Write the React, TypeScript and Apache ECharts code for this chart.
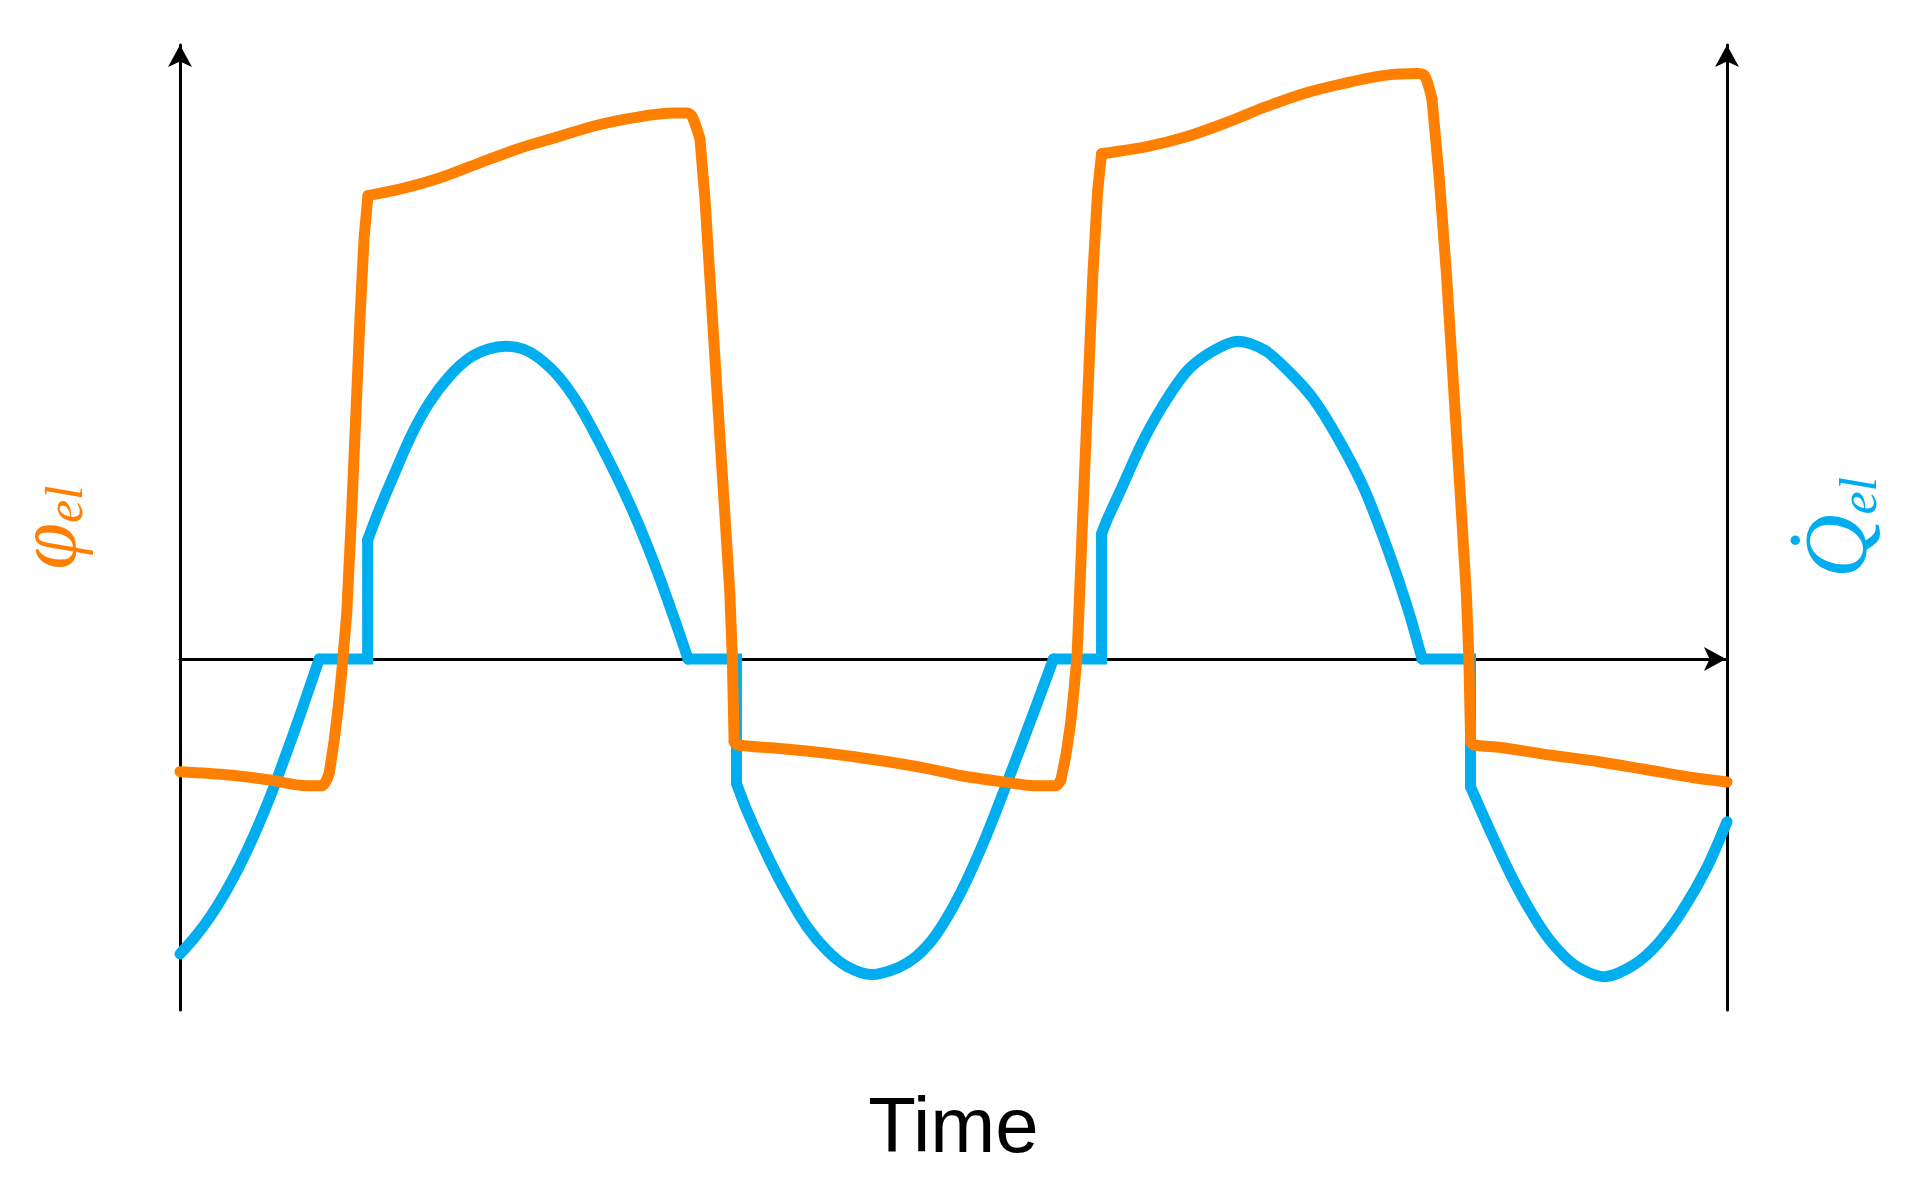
import React, { useEffect, useRef } from "react";
import * as echarts from "echarts";

// Time (0..100 across the plot) and values (0 = horizontal axis)
const tPhi = [0, 3.22, 5.79, 8.2, 9.17, 9.65, 9.97, 10.23, 10.45, 10.78, 11.09, 11.42, 11.64, 11.9, 12.15, 14.47, 16.72, 19.3, 21.87, 24.44, 27.01, 29.59, 31.84, 32.81, 33.12, 33.61, 33.93, 34.25, 34.57, 34.89, 35.22, 35.54, 35.7, 35.76, 35.82, 36.02, 38.59, 41.81, 45.02, 48.24, 50.42, 53.6, 55.18, 56.62, 56.94, 57.25, 57.57, 57.79, 57.98, 58.05, 58.36, 58.68, 59.0, 59.32, 59.57, 59.95, 62.5, 65.04, 67.58, 70.12, 72.66, 75.21, 77.75, 79.97, 80.45, 80.93, 81.4, 81.88, 82.2, 82.52, 82.84, 83.15, 83.31, 83.37, 83.43, 83.64, 85.38, 88.56, 91.73, 94.91, 98.09, 100];
const phiEl = [-11.27, -11.6, -12.1, -12.67, -12.67, -11.4, -8.1, -4.8, -1.4, 4.6, 14.5, 26.33, 34.23, 42.14, 46.33, 47.08, 48.07, 49.57, 51.03, 52.22, 53.4, 54.19, 54.59, 54.59, 54.2, 52.02, 46.1, 38.2, 30.3, 22.4, 14.5, 6.6, 0.24, -4.1, -8.3, -8.6, -8.93, -9.43, -10.1, -10.93, -11.65, -12.37, -12.67, -12.67, -12.1, -9.77, -6.43, -3.1, 0.23, 2.61, 14.47, 26.33, 38.18, 46.88, 50.52, 50.6, 51.23, 52.22, 53.6, 55.18, 56.56, 57.55, 58.34, 58.54, 58.34, 55.97, 48.07, 38.18, 30.28, 22.38, 14.47, 6.56, 0.24, -4.1, -8.3, -8.6, -8.85, -9.6, -10.27, -11.1, -11.93, -12.3];

const tQ = [0, 0.97, 1.94, 2.91, 3.88, 4.85, 5.82, 6.79, 7.76, 9.0, 12.13, 12.13, 12.86, 13.83, 14.95, 16.08, 17.37, 18.66, 19.94, 21.07, 22.19, 23.15, 24.44, 25.73, 27.01, 28.3, 29.59, 30.87, 32.16, 32.84, 35.97, 35.97, 36.66, 37.94, 39.24, 40.52, 41.81, 43.1, 44.7, 46.31, 47.6, 48.88, 50.42, 52.01, 53.6, 55.19, 56.46, 59.57, 59.57, 59.95, 60.91, 62.18, 63.45, 65.04, 66.63, 68.38, 70.12, 71.71, 73.3, 74.89, 76.48, 78.07, 79.34, 80.29, 83.42, 83.42, 84.76, 86.01, 87.29, 88.56, 90.14, 92.05, 93.96, 95.55, 97.14, 98.73, 100];
const qDotEl = [-29.5, -27.8, -25.8, -23.4, -20.6, -17.4, -13.8, -9.8, -5.6, 0, 0, 11.9, 14.86, 18.42, 22.37, 25.54, 28.2, 30.05, 30.99, 31.27, 30.99, 30.15, 28.3, 25.54, 21.98, 18.03, 13.65, 8.67, 3.1, 0, 0, -12.43, -15.21, -19.57, -23.47, -26.75, -29.14, -30.73, -31.55, -30.93, -29.74, -27.55, -23.5, -18.09, -11.82, -5.33, 0, 0, 12.5, 14.0, 17.24, 21.58, 25.14, 28.7, 30.67, 31.78, 30.87, 28.7, 25.93, 21.98, 17.24, 10.97, 5.16, 0, 0, -12.77, -17.43, -21.54, -25.18, -28.14, -30.6, -31.77, -30.6, -28.43, -25.1, -20.77, -16.27];

const xName = "Time";
const ORANGE = "#FF8000";
const BLUE = "#00AEEF";
const Y_MIN = -35.1;
const Y_MAX = 61.4;

// Split a curve into smooth stretches and straight (steep / switching) stretches.
function splitCurve(ts: number[], ys: number[], isStraight: (i: number) => boolean) {
  const curved: any[] = [];
  const straight: any[] = [];
  for (let i = 0; i < ts.length - 1; i++) {
    const target = isStraight(i) ? straight : curved;
    const last = target[target.length - 1];
    if (!last || last[0] !== ts[i] || last[1] !== ys[i]) {
      if (target.length) target.push([ts[i], null]);
      target.push([ts[i], ys[i]]);
    }
    target.push([ts[i + 1], ys[i + 1]]);
  }
  return { curved, straight };
}

export default function App() {
  const ref = useRef<HTMLDivElement>(null);
  useEffect(() => {
    document.body.style.margin = "0";
    document.body.style.overflow = "hidden";
    if (!ref.current) return;
    const chart = echarts.init(ref.current, null, { renderer: "svg" });

    const q = splitCurve(tQ, qDotEl, (i) => (qDotEl[i] === 0 && qDotEl[i + 1] === 0) || tQ[i] === tQ[i + 1]);
    const phi = splitCurve(tPhi, phiEl, (i) => Math.abs((phiEl[i + 1] - phiEl[i]) / (tPhi[i + 1] - tPhi[i])) > 6);

    const axisLine = (offsetEnd: number) => ({
      show: true,
      onZero: false,
      symbol: ["none", "arrow"],
      symbolSize: [18, 22],
      symbolOffset: [0, offsetEnd],
      lineStyle: { color: "#000", width: 3 },
    });
    const serif = "'Liberation Serif', 'DejaVu Serif', serif";
    const blueLine = { color: BLUE, width: 11, cap: "round", join: "round" };
    const orangeLine = { color: ORANGE, width: 11, cap: "round", join: "round" };
    const common = { type: "line", showSymbol: false, symbol: "none", connectNulls: false };
    chart.setOption({
      animation: false,
      backgroundColor: "#fff",
      grid: { left: 180, right: 186, top: 45, bottom: 185, outerBoundsMode: "none", containLabel: false },
      xAxis: {
        type: "value",
        min: 0,
        max: 100,
        name: xName,
        nameLocation: "middle",
        nameGap: 76,
        nameTextStyle: { fontSize: 78, color: "#000", fontFamily: "'Liberation Sans', Arial, sans-serif" },
        axisLine: { ...axisLine(-1), onZero: true },
        axisTick: { show: false },
        axisLabel: { show: false },
        splitLine: { show: false },
      },
      yAxis: [
        {
          type: "value",
          position: "left",
          min: Y_MIN,
          max: Y_MAX,
          name: "{a|φ}{b|el}",
          nameLocation: "middle",
          nameGap: 90,
          nameTextStyle: {
            rich: {
              a: { fontSize: 84, lineHeight: 76, padding: [0, 0, 12, 0], fontStyle: "italic", fontFamily: serif, color: ORANGE },
              b: { fontSize: 52, lineHeight: 50, verticalAlign: "bottom", fontStyle: "italic", fontFamily: serif, color: ORANGE },
            },
          },
          axisLine: axisLine(0),
          axisTick: { show: false },
          axisLabel: { show: false },
          splitLine: { show: false },
        },
        {
          type: "value",
          position: "right",
          min: Y_MIN,
          max: Y_MAX,
          name: "{a|Q\u0307}{b|el}",
          nameLocation: "middle",
          nameGap: 77,
          nameTextStyle: {
            rich: {
              a: { fontSize: 88, lineHeight: 80, padding: [0, 0, 18, 0], fontStyle: "italic", fontFamily: serif, color: BLUE },
              b: { fontSize: 52, lineHeight: 50, verticalAlign: "bottom", fontStyle: "italic", fontFamily: serif, color: BLUE },
            },
          },
          axisLine: axisLine(0),
          axisTick: { show: false },
          axisLabel: { show: false },
          splitLine: { show: false },
        },
      ],
      series: [
        { ...common, name: "Q̇el", yAxisIndex: 1, data: q.curved, smooth: 0.3, lineStyle: blueLine, itemStyle: { color: BLUE } },
        { ...common, name: "Q̇el switching", yAxisIndex: 1, data: q.straight, lineStyle: { ...blueLine, join: "miter" }, itemStyle: { color: BLUE } },
        { ...common, name: "φel", yAxisIndex: 0, data: phi.curved, smooth: 0.3, lineStyle: orangeLine, itemStyle: { color: ORANGE } },
        { ...common, name: "φel switching", yAxisIndex: 0, data: phi.straight, lineStyle: { ...orangeLine, join: "miter" }, itemStyle: { color: ORANGE } },
      ],
    });
    return () => chart.dispose();
  }, []);
  return <div ref={ref} style={{ width: 1913, height: 1195 }} />;
}
